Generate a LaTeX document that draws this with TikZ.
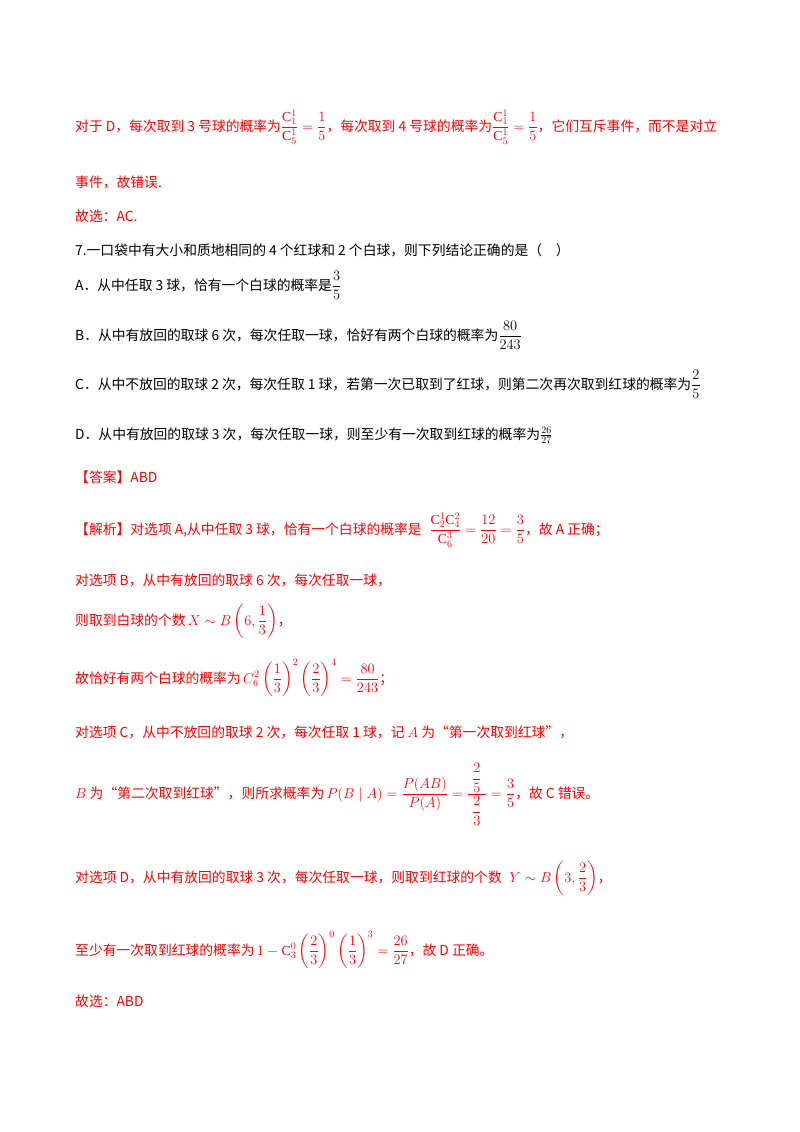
\documentclass[tikz,border=0pt]{standalone}
\usepackage{amsmath}
\usepackage{fontspec}
\setmainfont{Liberation Serif}
\newfontfamily\cjk{Noto Sans CJK SC}
\definecolor{rd}{RGB}{255,0,0}
\begin{document}
\begin{tikzpicture}[x=1pt,y=-1pt,
  txt/.style={anchor=base west,inner sep=0pt,font=\fontsize{13.8}{16}\selectfont\cjk},
  red/.style={txt,text=rd},blk/.style={txt,text=black}]
\useasboundingbox[fill=white] (0,0) rectangle (800,1132);
\node[red] (l1) at (75,131) {对于 D，每次取到 3 号球的概率为$\dfrac{\mathrm{C}_1^1}{\mathrm{C}_5^1}=\dfrac{1}{5}$，每次取到 4 号球的概率为$\dfrac{\mathrm{C}_1^1}{\mathrm{C}_5^1}=\dfrac{1}{5}$，它们互斥事件，而不是对立};
\node[red] (l2) at (75,187) {事件，故错误.};
\node[red] (l3) at (75,221) {故选：AC.};
\node[blk] (q7) at (75,255) {7.一口袋中有大小和质地相同的 4 个红球和 2 个白球，则下列结论正确的是（\quad）};
\node[blk] (qa) at (75,290) {A．从中任取 3 球，恰有一个白球的概率是$\dfrac{3}{5}$};
\node[blk] (qb) at (75,340) {B．从中有放回的取球 6 次，每次任取一球，恰好有两个白球的概率为$\dfrac{80}{243}$};
\node[blk] (qc) at (75,389) {C．从中不放回的取球 2 次，每次任取 1 球，若第一次已取到了红球，则第二次再次取到红球的概率为$\dfrac{2}{5}$};
\node[blk] (qd) at (75,439) {D．从中有放回的取球 3 次，每次任取一球，则至少有一次取到红球的概率为$\frac{26}{27}$};
\node[red] (ans) at (75,482) {【答案】ABD};
\node[red] (j1) at (75,534) {【解析】对选项 A,从中任取 3 球，恰有一个白球的概率是\;\;$\dfrac{\mathrm{C}_2^1\mathrm{C}_4^2}{\mathrm{C}_6^3}=\dfrac{12}{20}=\dfrac{3}{5}$，故 A 正确；};
\node[red] (j2) at (75,585) {对选项 B，从中有放回的取球 6 次，每次任取一球，};
\node[red] (j3) at (75,625) {则取到白球的个数\,$X\sim B\left(6,\dfrac{1}{3}\right)$，};
\node[red] (j4) at (75,683) {故恰好有两个白球的概率为\,$C_6^2\left(\dfrac{1}{3}\right)^2\left(\dfrac{2}{3}\right)^4=\dfrac{80}{243}$；};
\node[red] (j5) at (75,737) {对选项 C，从中不放回的取球 2 次，每次任取 1 球，记 $A$ 为“第一次取到红球”，};
\node[red] (j6) at (75,798) {$B$ 为“第二次取到红球”，则所求概率为\,$P(B\mid A)=\dfrac{P(AB)}{P(A)}=\dfrac{\;\dfrac{2}{5}\;}{\dfrac{2}{3}}=\dfrac{3}{5}$，故 C 错误。};
\node[red] (j7) at (75,882) {对选项 D，从中有放回的取球 3 次，每次任取一球，则取到红球的个数\;\;$Y\sim B\left(3,\dfrac{2}{3}\right)$，};
\node[red] (j8) at (75,955) {至少有一次取到红球的概率为\,$1-\mathrm{C}_3^0\left(\dfrac{2}{3}\right)^0\left(\dfrac{1}{3}\right)^3=\dfrac{26}{27}$，故 D 正确。};
\node[red] (j9) at (75,1006) {故选：ABD};
\end{tikzpicture}
\end{document}
